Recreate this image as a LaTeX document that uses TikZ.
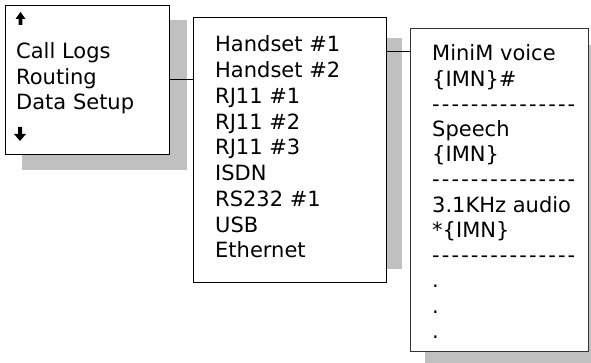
\documentclass[tikz,border=0pt]{standalone}
\usepackage{fontspec}
\setmainfont{DejaVu Sans}
\newcommand\hy{-\kern2.1pt}
\newcommand\dashrow{\hy\hy\hy\hy\hy\hy\hy\hy\hy\hy\hy\hy\hy\hy-}
\begin{document}
\begin{tikzpicture}[x=1pt,y=-1pt,
  menubox/.style={draw=black,line width=1pt,fill=white,inner sep=0pt,anchor=north west},
  shadowbox/.style={fill=shadowgray,draw=none},
  itemtext/.style={anchor=base west,inner sep=0pt,font=\fontsize{21}{25}\selectfont},
  link/.style={draw=black,line width=1pt}]
\definecolor{shadowgray}{HTML}{C0C0C0}
\useasboundingbox (0,0) rectangle (591,363);
\fill[white] (0,0) rectangle (591,363);
% shadows
\fill[shadowbox] (22,20) rectangle (187,170);
\fill[shadowbox] (210,38) rectangle (402,269);
\fill[shadowbox] (425,45) rectangle (600,370);
% boxes
\node[menubox,minimum width=164pt,minimum height=149pt] (b1) at (5,5) {};
\node[menubox,minimum width=193pt,minimum height=265pt] (b2) at (193,17) {};
\node[menubox,minimum width=178pt,minimum height=323pt,draw=black!80] (b3) at (410,28) {};
% connectors
\draw[link] (b1.east) -- (b1.east -| b2.west);
\coordinate (c2) at ([yshift=-35pt]b2.north east);
\draw[link] (c2) -- (c2 -| b3.west);
% arrows in box 1
\fill[black] (20.5,12) -- (25.5,19) -- (22.3,19) -- (22.3,25) -- (18.7,25) -- (18.7,19) -- (15.5,19) -- cycle;
\fill[black] (20,141) -- (26,134) -- (22,134) -- (22,127) -- (18,127) -- (18,134) -- (14,134) -- cycle;
% box 1 text
\node[itemtext] (t11) at (16,59) {Call Logs};
\node[itemtext] (t12) at (16,84.5) {Routing};
\node[itemtext] (t13) at (16,110) {Data Setup};
% box 2 text
\foreach \t [count=\i from 0] in {Handset \#1,Handset \#2,RJ11 \#1,RJ11 \#2,RJ11 \#3,ISDN,RS232 \#1,USB,Ethernet}
  \node[itemtext] (t2\i) at (215,52+25.75*\i) {\t};
% box 3 text
\node[itemtext] (t30) at (432,61) {MiniM voice};
\node[itemtext] (t31) at (432,86.2) {\{IMN\}\#};
\node[itemtext] (t32) at (432,111.4) {\dashrow};
\node[itemtext] (t33) at (432,136.6) {Speech};
\node[itemtext] (t34) at (432,161.8) {\{IMN\}};
\node[itemtext] (t35) at (432,187) {\dashrow};
\node[itemtext] (t36) at (432,212.2) {3.1KHz audio};
\node[itemtext] (t37) at (432,237.4) {*\{IMN\}};
\node[itemtext] (t38) at (432,262.6) {\dashrow};
\node[itemtext] (t39) at (432,287.8) {.};
\node[itemtext] (t3a) at (432,313) {.};
\node[itemtext] (t3b) at (432,338.2) {.};
\end{tikzpicture}
\end{document}
